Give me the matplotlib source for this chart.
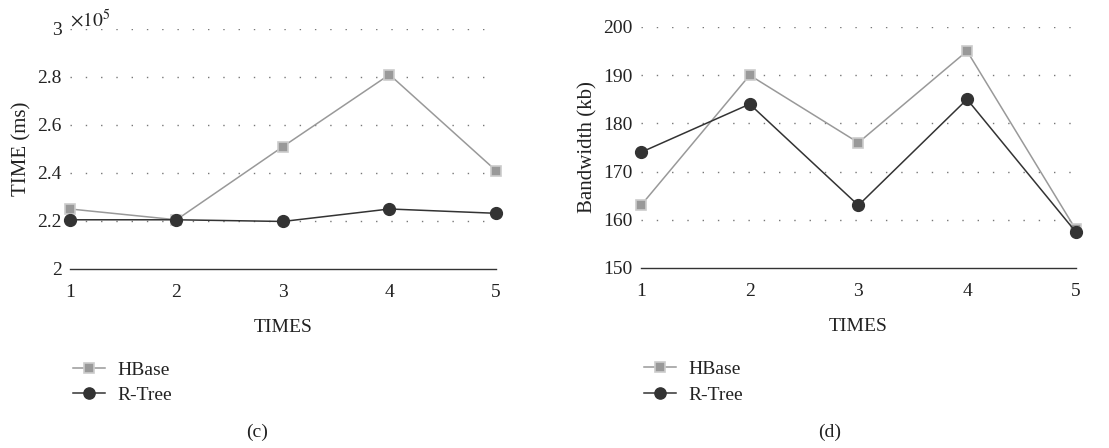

# two line charts: query time and bandwidth, HBase vs R-Tree
import matplotlib.pyplot as plt

plt.rcParams['font.family'] = ['Liberation Serif', 'DejaVu Serif']
plt.rcParams['mathtext.fontset'] = 'stix'

times = [1, 2, 3, 4, 5]

# (c) TIME in units of 1e5 ms
hbase_time = [2.25, 2.205, 2.51, 2.81, 2.41]
rtree_time = [2.205, 2.205, 2.198, 2.25, 2.232]
time_ticks = [2, 2.2, 2.4, 2.6, 2.8, 3]
time_labels = ['2', '2.2', '2.4', '2.6', '2.8', '3']

# (d) Bandwidth in kb
hbase_bw = [163, 190, 176, 195, 158]
rtree_bw = [174, 184, 163, 185, 157.5]
bw_ticks = [150, 160, 170, 180, 190, 200]

hbase_col = '#999999'
rtree_col = '#333333'

fig = plt.figure(figsize=(11.09, 4.48), dpi=100)
ax1 = fig.add_axes([0.0631, 0.3996, 0.3841, 0.5357])
ax2 = fig.add_axes([0.578, 0.4018, 0.392, 0.5380])

def style(ax, ticks, labels, ylabel):
    ax.set_xlim(1, 5)
    ax.set_ylim(ticks[0], ticks[-1])
    ax.set_xticks(times)
    ax.set_yticks(ticks)
    ax.set_yticklabels(labels)
    for s in ['top', 'right', 'left']:
        ax.spines[s].set_visible(False)
    ax.spines['bottom'].set_color('#333333')
    ax.spines['bottom'].set_linewidth(1.0)
    ax.tick_params(length=0, labelsize=14, colors='#222222', pad=6)
    ax.tick_params(axis='x', pad=11)
    for t in ticks[1:]:
        ax.axhline(t, color='#777777', lw=1.0, ls=(0, (1, 10)), zorder=0)
    ax.set_xlabel('TIMES', fontsize=14, color='#222222', labelpad=13)
    ax.set_ylabel(ylabel, fontsize=15, color='#222222', labelpad=4)

def draw(ax, hb, rt):
    ax.plot(times, hb, color=hbase_col, lw=1.1, marker='s', ms=7,
            mfc='#999999', mec='#cccccc', mew=1.2, label='HBase', clip_on=False, zorder=3)
    ax.plot(times, rt, color=rtree_col, lw=1.1, marker='o', ms=8.5,
            mfc=rtree_col, mec=rtree_col, label='R-Tree', clip_on=False, zorder=4)
    leg = ax.legend(loc='upper left', bbox_to_anchor=(-0.012, -0.352), frameon=False,
                    fontsize=14, handlelength=1.65, handletextpad=0.67,
                    labelspacing=0.4, borderaxespad=0, markerscale=0.95)
    for t in leg.get_texts():
        t.set_color('#222222')

style(ax1, time_ticks, time_labels, 'TIME (ms)')
draw(ax1, hbase_time, rtree_time)
ax1.text(0.0, 1.04, r'$\times 10^5$', transform=ax1.transAxes, fontsize=14,
         color='#222222', ha='left', va='center')

style(ax2, bw_ticks, [str(t) for t in bw_ticks], 'Bandwidth (kb)')
draw(ax2, hbase_bw, rtree_bw)

fig.text(0.232, 1 - 432 / 448, '(c)', fontsize=14, ha='center', va='center', color='#222222')
fig.text(0.748, 1 - 432 / 448, '(d)', fontsize=14, ha='center', va='center', color='#222222')

plt.savefig('out.png')
plt.close()
